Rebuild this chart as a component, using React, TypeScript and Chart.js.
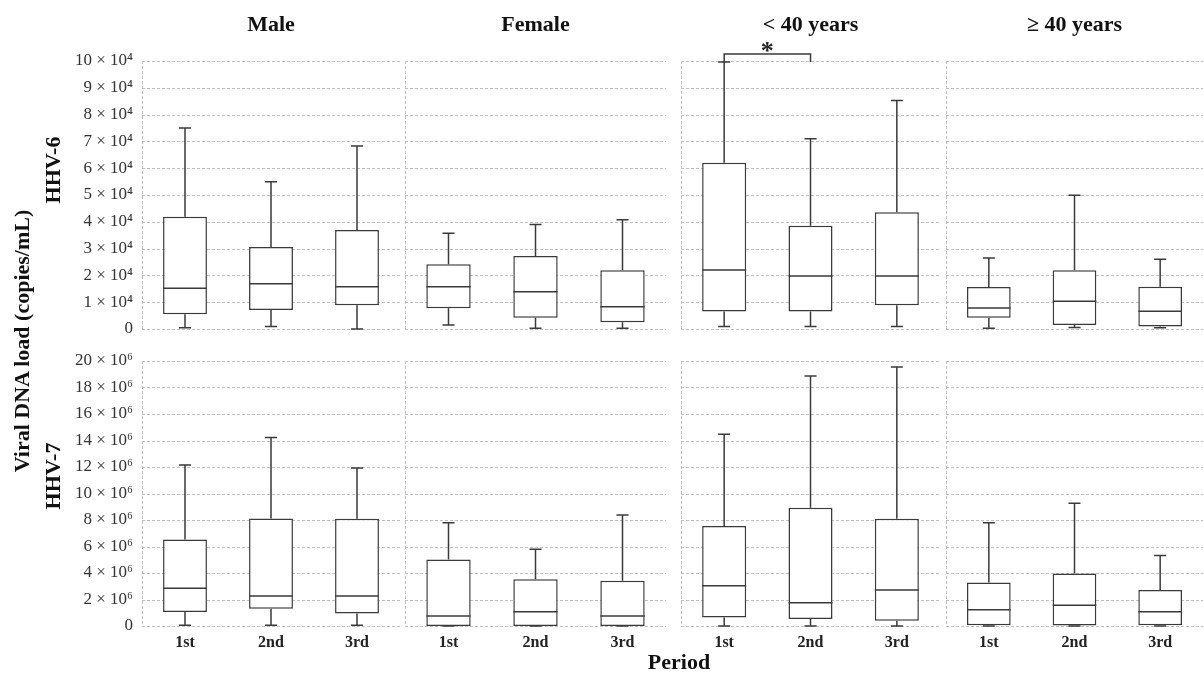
import React, { useEffect, useRef } from 'react';
import { Chart, registerables } from 'chart.js';

Chart.register(...registerables);

// ---------- data ----------
const periods = ['1st', '2nd', '3rd'];
const groupTitles = ['Male', 'Female', '< 40 years', '≥ 40 years'];
const rowTitles = ['HHV-6', 'HHV-7'];
const yAxisTitle = 'Viral DNA load (copies/mL)';
const xAxisTitle = 'Period';
const hhv6Exponent = '⁴';
const hhv7Exponent = '⁶';
const hhv6Max = 10;
const hhv6Step = 1;
const hhv7Max = 20;
const hhv7Step = 2;

// each box: [min, Q1, median, Q3, max]; HHV-6 in ×10⁴, HHV-7 in ×10⁶ copies/mL
const hhv6Male = [[0.05, 0.55, 1.52, 4.19, 7.5], [0.09, 0.71, 1.69, 3.06, 5.49], [0, 0.89, 1.58, 3.69, 6.83]];
const hhv6Female = [[0.15, 0.77, 1.58, 2.42, 3.57], [0.03, 0.42, 1.39, 2.72, 3.9], [0.03, 0.25, 0.83, 2.19, 4.08]];
const hhv6Under40 = [[0.09, 0.65, 2.2, 6.2, 9.96], [0.09, 0.65, 1.98, 3.85, 7.1], [0.09, 0.89, 1.98, 4.36, 8.53]];
const hhv6Over40 = [[0.03, 0.42, 0.78, 1.57, 2.65], [0.06, 0.15, 1.04, 2.19, 4.99], [0.05, 0.09, 0.66, 1.58, 2.6]];

const hhv7Male = [[0.05, 1.06, 2.84, 6.53, 12.16], [0.05, 1.31, 2.26, 8.11, 14.22], [0.05, 0.95, 2.26, 8.09, 11.93]];
const hhv7Female = [[0, 0, 0.75, 5.02, 7.79], [0, 0, 1.08, 3.52, 5.8], [0, 0, 0.75, 3.42, 8.37]];
const hhv7Under40 = [[0, 0.65, 3.04, 7.54, 14.47], [0, 0.53, 1.76, 8.92, 18.86], [0, 0.4, 2.71, 8.09, 19.54]];
const hhv7Over40 = [[0, 0.05, 1.23, 3.29, 7.79], [0, 0.03, 1.56, 3.97, 9.27], [0, 0.05, 1.08, 2.71, 5.33]];

// significance bracket (HHV-6, < 40 years, 1st vs 2nd)
const sigLabel = '*';

// ---------- layout / style ----------
const COLS = [
  { l: 142, r: 400 },
  { l: 405, r: 666 },
  { l: 681, r: 940 },
  { l: 946, r: 1203 },
];
const ROWS = [
  { t: 61, b: 329 },
  { t: 361, b: 626 },
];
const FONT = '"Liberation Serif", "Times New Roman", serif';
const BOX_COLOR = '#3a3a3a';
const GRID_COLOR = '#c0c0c0';

type PanelProps = {
  boxes: number[][];
  col: number;
  row: number;
  yMax: number;
  yStep: number;
  exp: string;
  bracket?: boolean;
};

function Panel({ boxes, col, row, yMax, yStep, exp, bracket }: PanelProps) {
  const ref = useRef<HTMLCanvasElement>(null);
  const showY = col === 0;
  const showX = row === 1;
  const c = COLS[col];
  const r = ROWS[row];
  const padL = showY ? 100 : 4;
  const padR = 4;
  const padT = row === 0 ? 30 : 24;
  const padB = showX ? 32 : 26;
  const W = c.r - c.l + padL + padR;
  const H = r.b - r.t + padT + padB;

  useEffect(() => {
    const extras = {
      id: 'boxExtras',
      beforeDatasetsDraw(chart: any) {
        const { ctx, chartArea: a, scales } = chart;
        const y = scales.y;
        ctx.save();
        ctx.strokeStyle = GRID_COLOR;
        ctx.lineWidth = 1;
        ctx.setLineDash([3, 2]);
        y.ticks.forEach((t: any) => {
          const py = Math.round(y.getPixelForValue(t.value)) + 0.5;
          ctx.beginPath();
          ctx.moveTo(a.left, py);
          ctx.lineTo(a.right, py);
          ctx.stroke();
        });
        const px = Math.round(a.left) + 0.5;
        ctx.beginPath();
        ctx.moveTo(px, a.top);
        ctx.lineTo(px, a.bottom);
        ctx.stroke();
        ctx.restore();
      },
      afterDatasetsDraw(chart: any) {
        const { ctx, scales } = chart;
        const y = scales.y;
        const meta = chart.getDatasetMeta(0);
        ctx.save();
        ctx.strokeStyle = BOX_COLOR;
        ctx.lineWidth = 1.5;
        ctx.setLineDash([]);
        const cap = 6;
        meta.data.forEach((bar: any, i: number) => {
          const [mn, q1, md, q3, mx] = boxes[i];
          const x = bar.x;
          const half = bar.width / 2;
          const pMin = y.getPixelForValue(mn);
          const pQ1 = y.getPixelForValue(q1);
          const pMd = y.getPixelForValue(md);
          const pQ3 = y.getPixelForValue(q3);
          const pMax = y.getPixelForValue(mx);
          ctx.beginPath();
          ctx.moveTo(x, pQ3);
          ctx.lineTo(x, pMax);
          ctx.moveTo(x - cap, pMax);
          ctx.lineTo(x + cap, pMax);
          ctx.moveTo(x, pQ1);
          ctx.lineTo(x, pMin);
          ctx.moveTo(x - cap, pMin);
          ctx.lineTo(x + cap, pMin);
          ctx.moveTo(x - half, pMd);
          ctx.lineTo(x + half, pMd);
          ctx.stroke();
        });
        if (bracket) {
          const x1 = meta.data[0].x;
          const x2 = meta.data[1].x;
          const yTop = y.getPixelForValue(yMax) - 7;
          const yEnd = y.getPixelForValue(boxes[0][4]);
          ctx.beginPath();
          ctx.moveTo(x1, yEnd);
          ctx.lineTo(x1, yTop);
          ctx.lineTo(x2, yTop);
          ctx.lineTo(x2, yEnd);
          ctx.stroke();
          ctx.fillStyle = '#222';
          ctx.font = `bold 26px ${FONT}`;
          ctx.textAlign = 'center';
          ctx.textBaseline = 'alphabetic';
          ctx.fillText(sigLabel, (x1 + x2) / 2, yTop + 5);
        }
        ctx.restore();
      },
    };

    const chart = new Chart(ref.current as HTMLCanvasElement, {
      type: 'bar',
      data: {
        labels: periods,
        datasets: [
          {
            data: boxes.map((b) => [b[1], b[3]]) as any,
            backgroundColor: '#ffffff',
            borderColor: BOX_COLOR,
            borderWidth: 1.5,
            borderSkipped: false,
            barPercentage: 0.51,
            categoryPercentage: 1,
          },
        ],
      },
      options: {
        animation: false,
        responsive: false,
        devicePixelRatio: 1,
        events: [],
        layout: { padding: { top: padT, right: padR, left: 0, bottom: 0 } },
        plugins: { legend: { display: false }, tooltip: { enabled: false } },
        scales: {
          x: {
            grid: { display: false, drawTicks: false },
            border: { display: false },
            ticks: {
              display: showX,
              color: '#222',
              padding: 7,
              font: { family: FONT, size: 16, weight: 'bold' },
            },
            afterFit: (s: any) => {
              s.height = padB;
            },
          },
          y: {
            min: 0,
            max: yMax,
            grid: { display: false, drawTicks: false },
            border: { display: false },
            ticks: {
              display: showY,
              stepSize: yStep,
              color: '#333',
              padding: 9,
              font: { family: FONT, size: 17 },
              callback: (v: any) => (Number(v) === 0 ? '0' : `${v} × 10${exp}`),
            },
            afterFit: (s: any) => {
              s.width = padL;
            },
          },
        },
      },
      plugins: [extras],
    });
    return () => chart.destroy();
  }, []);

  return (
    <canvas
      ref={ref}
      width={W}
      height={H}
      style={{ position: 'absolute', left: c.l - padL, top: r.t - padT, width: W, height: H }}
    />
  );
}

function HLabel({ text, cx, baseline }: { text: string; cx: number; baseline: number }) {
  return (
    <div
      style={{
        position: 'absolute',
        left: cx,
        top: baseline - 18.4,
        transform: 'translateX(-50%)',
        font: `bold 22px ${FONT}`,
        lineHeight: '22px',
        whiteSpace: 'nowrap',
        color: '#111',
      }}
    >
      {text}
    </div>
  );
}

function VLabel({ text, cx, cy }: { text: string; cx: number; cy: number }) {
  return (
    <div
      style={{
        position: 'absolute',
        left: cx,
        top: cy,
        transform: 'translate(-50%, -50%) rotate(-90deg)',
        font: `bold 22px ${FONT}`,
        lineHeight: '22px',
        whiteSpace: 'nowrap',
        color: '#111',
      }}
    >
      {text}
    </div>
  );
}

export default function App() {
  const hhv6 = [hhv6Male, hhv6Female, hhv6Under40, hhv6Over40];
  const hhv7 = [hhv7Male, hhv7Female, hhv7Under40, hhv7Over40];
  return (
    <div
      style={{
        position: 'fixed',
        left: 0,
        top: 0,
        width: 1204,
        height: 673,
        background: '#fff',
        overflow: 'hidden',
      }}
    >
      {hhv6.map((b, i) => (
        <Panel key={'a' + i} boxes={b} col={i} row={0} yMax={hhv6Max} yStep={hhv6Step} exp={hhv6Exponent} bracket={i === 2} />
      ))}
      {hhv7.map((b, i) => (
        <Panel key={'b' + i} boxes={b} col={i} row={1} yMax={hhv7Max} yStep={hhv7Step} exp={hhv7Exponent} />
      ))}
      {groupTitles.map((t, i) => (
        <HLabel key={t} text={t} cx={(COLS[i].l + COLS[i].r) / 2} baseline={31} />
      ))}
      <HLabel text={xAxisTitle} cx={679} baseline={669} />
      <VLabel text={rowTitles[0]} cx={53} cy={170} />
      <VLabel text={rowTitles[1]} cx={53} cy={476} />
      <VLabel text={yAxisTitle} cx={22} cy={341} />
    </div>
  );
}
